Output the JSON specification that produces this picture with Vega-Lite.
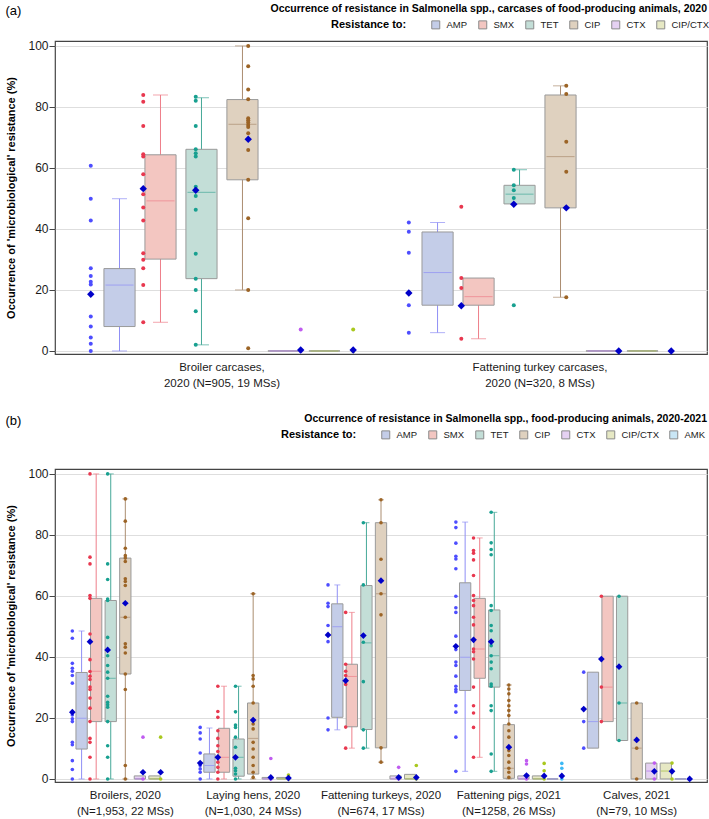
{
"$schema": "https://vega.github.io/schema/vega-lite/v6.json",
"padding": {"left": 5, "top": 2, "right": 3, "bottom": 0},
"spacing": 22,
"config": {
 "font": "Liberation Sans",
 "view": {"stroke": "#444", "strokeWidth": 1.2},
 "axisX": {"labelFontSize": 11.5, "ticks": false, "domain": false, "labelPadding": 7, "labelLineHeight": 16, "labelAngle": 0, "labelColor": "#1a1a1a", "labelLimit": 0, "grid": false},
 "axisY": {"labelFontSize": 12, "tickSize": 6, "labelPadding": 1, "titleFontSize": 11, "titleFontWeight": "bold", "titlePadding": 11, "gridColor": "#dedede", "domain": false, "tickColor": "#444", "labelColor": "#1a1a1a", "titleColor": "#000"},
 "legend": {"orient": "none", "direction": "horizontal", "gridAlign": "each", "titleOrient": "left", "titlePadding": 24, "columnPadding": 8, "labelOffset": 6, "symbolType": "square", "symbolSize": 64, "symbolStrokeColor": "#8a8a8a", "symbolStrokeWidth": 1, "labelFontSize": 9.5, "titleFontSize": 11, "titleFontWeight": "bold", "labelColor": "#1a1a1a", "titleColor": "#000", "labelLimit": 0},
 "title": {"color": "#000"}
},
"datasets": {
 "boxA": [
  {"g": "Broiler carcases,|2020 (N=905, 19 MSs)", "d": "AMP", "lo": 0, "q1": 8.0, "med": 21.6, "q3": 27.0, "hi": 49.9, "mean": 18.6},
  {"g": "Broiler carcases,|2020 (N=905, 19 MSs)", "d": "SMX", "lo": 9.4, "q1": 30.1, "med": 49.2, "q3": 64.3, "hi": 83.9, "mean": 53.2},
  {"g": "Broiler carcases,|2020 (N=905, 19 MSs)", "d": "TET", "lo": 2.0, "q1": 23.7, "med": 52.0, "q3": 66.1, "hi": 83.0, "mean": 52.7},
  {"g": "Broiler carcases,|2020 (N=905, 19 MSs)", "d": "CIP", "lo": 20.0, "q1": 56.1, "med": 74.3, "q3": 82.4, "hi": 100, "mean": 69.4},
  {"g": "Broiler carcases,|2020 (N=905, 19 MSs)", "d": "CTX", "lo": 0, "q1": 0, "med": 0, "q3": 0, "hi": 0, "mean": 0.3},
  {"g": "Broiler carcases,|2020 (N=905, 19 MSs)", "d": "CIP/CTX", "lo": 0, "q1": 0, "med": 0, "q3": 0, "hi": 0, "mean": 0.3},
  {"g": "Fattening turkey carcases,|2020 (N=320, 8 MSs)", "d": "AMP", "lo": 6.0, "q1": 15.0, "med": 25.7, "q3": 39.0, "hi": 42.1, "mean": 19.0},
  {"g": "Fattening turkey carcases,|2020 (N=320, 8 MSs)", "d": "SMX", "lo": 4.0, "q1": 15.0, "med": 17.8, "q3": 23.9, "hi": 23.9, "mean": 14.8},
  {"g": "Fattening turkey carcases,|2020 (N=320, 8 MSs)", "d": "TET", "lo": 48.2, "q1": 48.2, "med": 51.4, "q3": 54.3, "hi": 59.4, "mean": 48.1},
  {"g": "Fattening turkey carcases,|2020 (N=320, 8 MSs)", "d": "CIP", "lo": 17.6, "q1": 46.9, "med": 63.7, "q3": 83.9, "hi": 86.9, "mean": 46.9},
  {"g": "Fattening turkey carcases,|2020 (N=320, 8 MSs)", "d": "CTX", "lo": 0, "q1": 0, "med": 0, "q3": 0, "hi": 0, "mean": 0},
  {"g": "Fattening turkey carcases,|2020 (N=320, 8 MSs)", "d": "CIP/CTX", "lo": 0, "q1": 0, "med": 0, "q3": 0, "hi": 0, "mean": 0}
 ],
 "ptsA": [
  {"g": "Broiler carcases,|2020 (N=905, 19 MSs)", "d": "AMP", "v": 60.7},
  {"g": "Broiler carcases,|2020 (N=905, 19 MSs)", "d": "AMP", "v": 49.9},
  {"g": "Broiler carcases,|2020 (N=905, 19 MSs)", "d": "AMP", "v": 42.8},
  {"g": "Broiler carcases,|2020 (N=905, 19 MSs)", "d": "AMP", "v": 27.1},
  {"g": "Broiler carcases,|2020 (N=905, 19 MSs)", "d": "AMP", "v": 24.6},
  {"g": "Broiler carcases,|2020 (N=905, 19 MSs)", "d": "AMP", "v": 22.7},
  {"g": "Broiler carcases,|2020 (N=905, 19 MSs)", "d": "AMP", "v": 21.8},
  {"g": "Broiler carcases,|2020 (N=905, 19 MSs)", "d": "AMP", "v": 11.3},
  {"g": "Broiler carcases,|2020 (N=905, 19 MSs)", "d": "AMP", "v": 8.0},
  {"g": "Broiler carcases,|2020 (N=905, 19 MSs)", "d": "AMP", "v": 4.4},
  {"g": "Broiler carcases,|2020 (N=905, 19 MSs)", "d": "AMP", "v": 2.4},
  {"g": "Broiler carcases,|2020 (N=905, 19 MSs)", "d": "AMP", "v": 0},
  {"g": "Broiler carcases,|2020 (N=905, 19 MSs)", "d": "SMX", "v": 83.9},
  {"g": "Broiler carcases,|2020 (N=905, 19 MSs)", "d": "SMX", "v": 81.7},
  {"g": "Broiler carcases,|2020 (N=905, 19 MSs)", "d": "SMX", "v": 73.7},
  {"g": "Broiler carcases,|2020 (N=905, 19 MSs)", "d": "SMX", "v": 64.5},
  {"g": "Broiler carcases,|2020 (N=905, 19 MSs)", "d": "SMX", "v": 63.7},
  {"g": "Broiler carcases,|2020 (N=905, 19 MSs)", "d": "SMX", "v": 57.9},
  {"g": "Broiler carcases,|2020 (N=905, 19 MSs)", "d": "SMX", "v": 51.4},
  {"g": "Broiler carcases,|2020 (N=905, 19 MSs)", "d": "SMX", "v": 47.0},
  {"g": "Broiler carcases,|2020 (N=905, 19 MSs)", "d": "SMX", "v": 42.8},
  {"g": "Broiler carcases,|2020 (N=905, 19 MSs)", "d": "SMX", "v": 32.0},
  {"g": "Broiler carcases,|2020 (N=905, 19 MSs)", "d": "SMX", "v": 29.9},
  {"g": "Broiler carcases,|2020 (N=905, 19 MSs)", "d": "SMX", "v": 27.1},
  {"g": "Broiler carcases,|2020 (N=905, 19 MSs)", "d": "SMX", "v": 21.6},
  {"g": "Broiler carcases,|2020 (N=905, 19 MSs)", "d": "SMX", "v": 9.4},
  {"g": "Broiler carcases,|2020 (N=905, 19 MSs)", "d": "TET", "v": 83.3},
  {"g": "Broiler carcases,|2020 (N=905, 19 MSs)", "d": "TET", "v": 82.0},
  {"g": "Broiler carcases,|2020 (N=905, 19 MSs)", "d": "TET", "v": 73.7},
  {"g": "Broiler carcases,|2020 (N=905, 19 MSs)", "d": "TET", "v": 66.1},
  {"g": "Broiler carcases,|2020 (N=905, 19 MSs)", "d": "TET", "v": 64.8},
  {"g": "Broiler carcases,|2020 (N=905, 19 MSs)", "d": "TET", "v": 63.7},
  {"g": "Broiler carcases,|2020 (N=905, 19 MSs)", "d": "TET", "v": 53.8},
  {"g": "Broiler carcases,|2020 (N=905, 19 MSs)", "d": "TET", "v": 50.8},
  {"g": "Broiler carcases,|2020 (N=905, 19 MSs)", "d": "TET", "v": 46.3},
  {"g": "Broiler carcases,|2020 (N=905, 19 MSs)", "d": "TET", "v": 31.9},
  {"g": "Broiler carcases,|2020 (N=905, 19 MSs)", "d": "TET", "v": 23.7},
  {"g": "Broiler carcases,|2020 (N=905, 19 MSs)", "d": "TET", "v": 20.0},
  {"g": "Broiler carcases,|2020 (N=905, 19 MSs)", "d": "TET", "v": 13.0},
  {"g": "Broiler carcases,|2020 (N=905, 19 MSs)", "d": "TET", "v": 2.0},
  {"g": "Broiler carcases,|2020 (N=905, 19 MSs)", "d": "CIP", "v": 100},
  {"g": "Broiler carcases,|2020 (N=905, 19 MSs)", "d": "CIP", "v": 93.3},
  {"g": "Broiler carcases,|2020 (N=905, 19 MSs)", "d": "CIP", "v": 85.7},
  {"g": "Broiler carcases,|2020 (N=905, 19 MSs)", "d": "CIP", "v": 82.5},
  {"g": "Broiler carcases,|2020 (N=905, 19 MSs)", "d": "CIP", "v": 76.3},
  {"g": "Broiler carcases,|2020 (N=905, 19 MSs)", "d": "CIP", "v": 75.6},
  {"g": "Broiler carcases,|2020 (N=905, 19 MSs)", "d": "CIP", "v": 74.9},
  {"g": "Broiler carcases,|2020 (N=905, 19 MSs)", "d": "CIP", "v": 74.1},
  {"g": "Broiler carcases,|2020 (N=905, 19 MSs)", "d": "CIP", "v": 73.4},
  {"g": "Broiler carcases,|2020 (N=905, 19 MSs)", "d": "CIP", "v": 71.4},
  {"g": "Broiler carcases,|2020 (N=905, 19 MSs)", "d": "CIP", "v": 65.9},
  {"g": "Broiler carcases,|2020 (N=905, 19 MSs)", "d": "CIP", "v": 56.1},
  {"g": "Broiler carcases,|2020 (N=905, 19 MSs)", "d": "CIP", "v": 43.5},
  {"g": "Broiler carcases,|2020 (N=905, 19 MSs)", "d": "CIP", "v": 20.0},
  {"g": "Broiler carcases,|2020 (N=905, 19 MSs)", "d": "CIP", "v": 0.9},
  {"g": "Broiler carcases,|2020 (N=905, 19 MSs)", "d": "CTX", "v": 7.0},
  {"g": "Broiler carcases,|2020 (N=905, 19 MSs)", "d": "CTX", "v": 0},
  {"g": "Broiler carcases,|2020 (N=905, 19 MSs)", "d": "CIP/CTX", "v": 7.0},
  {"g": "Broiler carcases,|2020 (N=905, 19 MSs)", "d": "CIP/CTX", "v": 0},
  {"g": "Fattening turkey carcases,|2020 (N=320, 8 MSs)", "d": "AMP", "v": 42.1},
  {"g": "Fattening turkey carcases,|2020 (N=320, 8 MSs)", "d": "AMP", "v": 39.1},
  {"g": "Fattening turkey carcases,|2020 (N=320, 8 MSs)", "d": "AMP", "v": 32.2},
  {"g": "Fattening turkey carcases,|2020 (N=320, 8 MSs)", "d": "AMP", "v": 19.0},
  {"g": "Fattening turkey carcases,|2020 (N=320, 8 MSs)", "d": "AMP", "v": 15.0},
  {"g": "Fattening turkey carcases,|2020 (N=320, 8 MSs)", "d": "AMP", "v": 6.0},
  {"g": "Fattening turkey carcases,|2020 (N=320, 8 MSs)", "d": "SMX", "v": 47.3},
  {"g": "Fattening turkey carcases,|2020 (N=320, 8 MSs)", "d": "SMX", "v": 23.9},
  {"g": "Fattening turkey carcases,|2020 (N=320, 8 MSs)", "d": "SMX", "v": 20.6},
  {"g": "Fattening turkey carcases,|2020 (N=320, 8 MSs)", "d": "SMX", "v": 14.8},
  {"g": "Fattening turkey carcases,|2020 (N=320, 8 MSs)", "d": "SMX", "v": 4.0},
  {"g": "Fattening turkey carcases,|2020 (N=320, 8 MSs)", "d": "TET", "v": 59.4},
  {"g": "Fattening turkey carcases,|2020 (N=320, 8 MSs)", "d": "TET", "v": 54.3},
  {"g": "Fattening turkey carcases,|2020 (N=320, 8 MSs)", "d": "TET", "v": 52.7},
  {"g": "Fattening turkey carcases,|2020 (N=320, 8 MSs)", "d": "TET", "v": 50.1},
  {"g": "Fattening turkey carcases,|2020 (N=320, 8 MSs)", "d": "TET", "v": 48.1},
  {"g": "Fattening turkey carcases,|2020 (N=320, 8 MSs)", "d": "TET", "v": 15.0},
  {"g": "Fattening turkey carcases,|2020 (N=320, 8 MSs)", "d": "CIP", "v": 86.9},
  {"g": "Fattening turkey carcases,|2020 (N=320, 8 MSs)", "d": "CIP", "v": 84.2},
  {"g": "Fattening turkey carcases,|2020 (N=320, 8 MSs)", "d": "CIP", "v": 68.6},
  {"g": "Fattening turkey carcases,|2020 (N=320, 8 MSs)", "d": "CIP", "v": 58.7},
  {"g": "Fattening turkey carcases,|2020 (N=320, 8 MSs)", "d": "CIP", "v": 46.9},
  {"g": "Fattening turkey carcases,|2020 (N=320, 8 MSs)", "d": "CIP", "v": 17.6},
  {"g": "Fattening turkey carcases,|2020 (N=320, 8 MSs)", "d": "CTX", "v": 0},
  {"g": "Fattening turkey carcases,|2020 (N=320, 8 MSs)", "d": "CIP/CTX", "v": 0}
 ],
 "boxB": [
  {"g": "Broilers, 2020|(N=1,953, 22 MSs)", "d": "AMP", "lo": 0, "q1": 9.8, "med": 19.9, "q3": 34.9, "hi": 48.5, "mean": 21.9},
  {"g": "Broilers, 2020|(N=1,953, 22 MSs)", "d": "SMX", "lo": 0, "q1": 18.8, "med": 35.3, "q3": 59.2, "hi": 100, "mean": 45.0},
  {"g": "Broilers, 2020|(N=1,953, 22 MSs)", "d": "TET", "lo": 0, "q1": 18.8, "med": 33.0, "q3": 58.5, "hi": 100, "mean": 42.3},
  {"g": "Broilers, 2020|(N=1,953, 22 MSs)", "d": "CIP", "lo": 0, "q1": 34.4, "med": 53.0, "q3": 72.4, "hi": 91.8, "mean": 57.6},
  {"g": "Broilers, 2020|(N=1,953, 22 MSs)", "d": "CTX", "lo": 0, "q1": 0, "med": 0, "q3": 1.0, "hi": 1.0, "mean": 2.2},
  {"g": "Broilers, 2020|(N=1,953, 22 MSs)", "d": "CIP/CTX", "lo": 0, "q1": 0, "med": 0, "q3": 1.0, "hi": 1.0, "mean": 2.2},
  {"g": "Laying hens, 2020|(N=1,030, 24 MSs)", "d": "AMP", "lo": 0, "q1": 2.2, "med": 4.4, "q3": 8.2, "hi": 16.7, "mean": 5.2},
  {"g": "Laying hens, 2020|(N=1,030, 24 MSs)", "d": "SMX", "lo": 0, "q1": 2.2, "med": 7.1, "q3": 16.6, "hi": 30.4, "mean": 7.1},
  {"g": "Laying hens, 2020|(N=1,030, 24 MSs)", "d": "TET", "lo": 0, "q1": 0.9, "med": 7.1, "q3": 13.1, "hi": 30.4, "mean": 7.1},
  {"g": "Laying hens, 2020|(N=1,030, 24 MSs)", "d": "CIP", "lo": 0, "q1": 1.6, "med": 13.3, "q3": 24.9, "hi": 60.7, "mean": 19.3},
  {"g": "Laying hens, 2020|(N=1,030, 24 MSs)", "d": "CTX", "lo": 0, "q1": 0, "med": 0, "q3": 0.5, "hi": 0.5, "mean": 0.5},
  {"g": "Laying hens, 2020|(N=1,030, 24 MSs)", "d": "CIP/CTX", "lo": 0, "q1": 0, "med": 0, "q3": 0.5, "hi": 0.5, "mean": 0.3},
  {"g": "Fattening turkeys, 2020|(N=674, 17 MSs)", "d": "AMP", "lo": 16.1, "q1": 20.2, "med": 49.9, "q3": 57.4, "hi": 63.6, "mean": 47.2},
  {"g": "Fattening turkeys, 2020|(N=674, 17 MSs)", "d": "SMX", "lo": 10.1, "q1": 17.1, "med": 33.6, "q3": 37.6, "hi": 54.6, "mean": 32.2},
  {"g": "Fattening turkeys, 2020|(N=674, 17 MSs)", "d": "TET", "lo": 10.1, "q1": 16.2, "med": 44.6, "q3": 63.4, "hi": 84.0, "mean": 47.0},
  {"g": "Fattening turkeys, 2020|(N=674, 17 MSs)", "d": "CIP", "lo": 5.5, "q1": 10.2, "med": 60.7, "q3": 84.0, "hi": 91.5, "mean": 65.0},
  {"g": "Fattening turkeys, 2020|(N=674, 17 MSs)", "d": "CTX", "lo": 0, "q1": 0, "med": 0, "q3": 1.0, "hi": 1.0, "mean": 0.5},
  {"g": "Fattening turkeys, 2020|(N=674, 17 MSs)", "d": "CIP/CTX", "lo": 0, "q1": 0, "med": 0, "q3": 1.5, "hi": 1.5, "mean": 0.5},
  {"g": "Fattening pigs, 2021|(N=1258, 26 MSs)", "d": "AMP", "lo": 2.5, "q1": 29.0, "med": 39.9, "q3": 64.3, "hi": 84.2, "mean": 43.5},
  {"g": "Fattening pigs, 2021|(N=1258, 26 MSs)", "d": "SMX", "lo": 7.1, "q1": 33.0, "med": 42.6, "q3": 59.2, "hi": 79.0, "mean": 45.6},
  {"g": "Fattening pigs, 2021|(N=1258, 26 MSs)", "d": "TET", "lo": 2.5, "q1": 30.1, "med": 40.4, "q3": 55.4, "hi": 87.4, "mean": 45.0},
  {"g": "Fattening pigs, 2021|(N=1258, 26 MSs)", "d": "CIP", "lo": 0, "q1": 0.2, "med": 3.5, "q3": 17.8, "hi": 30.8, "mean": 10.4},
  {"g": "Fattening pigs, 2021|(N=1258, 26 MSs)", "d": "CTX", "lo": 0, "q1": 0, "med": 0, "q3": 1.0, "hi": 1.0, "mean": 1.1},
  {"g": "Fattening pigs, 2021|(N=1258, 26 MSs)", "d": "CIP/CTX", "lo": 0, "q1": 0, "med": 0, "q3": 1.0, "hi": 1.0, "mean": 1.0},
  {"g": "Fattening pigs, 2021|(N=1258, 26 MSs)", "d": "AMK", "lo": 0, "q1": 0, "med": 0, "q3": 0, "hi": 0, "mean": 1.0},
  {"g": "Calves, 2021|(N=79, 10 MSs)", "d": "AMP", "lo": 10.1, "q1": 10.1, "med": 18.8, "q3": 35.0, "hi": 35.0, "mean": 22.9},
  {"g": "Calves, 2021|(N=79, 10 MSs)", "d": "SMX", "lo": 18.8, "q1": 18.8, "med": 30.1, "q3": 59.9, "hi": 59.9, "mean": 39.3},
  {"g": "Calves, 2021|(N=79, 10 MSs)", "d": "TET", "lo": 12.6, "q1": 12.6, "med": 24.9, "q3": 59.9, "hi": 59.9, "mean": 36.8},
  {"g": "Calves, 2021|(N=79, 10 MSs)", "d": "CIP", "lo": 0, "q1": 0, "med": 10.1, "q3": 24.9, "hi": 24.9, "mean": 12.8},
  {"g": "Calves, 2021|(N=79, 10 MSs)", "d": "CTX", "lo": 0, "q1": 0, "med": 2.6, "q3": 5.2, "hi": 5.2, "mean": 2.5},
  {"g": "Calves, 2021|(N=79, 10 MSs)", "d": "CIP/CTX", "lo": 0, "q1": 0, "med": 2.6, "q3": 5.2, "hi": 5.2, "mean": 2.5},
  {"g": "Calves, 2021|(N=79, 10 MSs)", "d": "AMK", "lo": 0, "q1": 0, "med": 0, "q3": 0, "hi": 0, "mean": 0}
 ],
 "ptsB": [
  {"g": "Broilers, 2020|(N=1,953, 22 MSs)", "d": "AMP", "v": 48.5},
  {"g": "Broilers, 2020|(N=1,953, 22 MSs)", "d": "AMP", "v": 46.1},
  {"g": "Broilers, 2020|(N=1,953, 22 MSs)", "d": "AMP", "v": 37.9},
  {"g": "Broilers, 2020|(N=1,953, 22 MSs)", "d": "AMP", "v": 36.3},
  {"g": "Broilers, 2020|(N=1,953, 22 MSs)", "d": "AMP", "v": 35.3},
  {"g": "Broilers, 2020|(N=1,953, 22 MSs)", "d": "AMP", "v": 33.9},
  {"g": "Broilers, 2020|(N=1,953, 22 MSs)", "d": "AMP", "v": 31.4},
  {"g": "Broilers, 2020|(N=1,953, 22 MSs)", "d": "AMP", "v": 21.0},
  {"g": "Broilers, 2020|(N=1,953, 22 MSs)", "d": "AMP", "v": 19.7},
  {"g": "Broilers, 2020|(N=1,953, 22 MSs)", "d": "AMP", "v": 18.8},
  {"g": "Broilers, 2020|(N=1,953, 22 MSs)", "d": "AMP", "v": 12.0},
  {"g": "Broilers, 2020|(N=1,953, 22 MSs)", "d": "AMP", "v": 11.2},
  {"g": "Broilers, 2020|(N=1,953, 22 MSs)", "d": "AMP", "v": 6.0},
  {"g": "Broilers, 2020|(N=1,953, 22 MSs)", "d": "AMP", "v": 3.1},
  {"g": "Broilers, 2020|(N=1,953, 22 MSs)", "d": "AMP", "v": 0},
  {"g": "Broilers, 2020|(N=1,953, 22 MSs)", "d": "SMX", "v": 100},
  {"g": "Broilers, 2020|(N=1,953, 22 MSs)", "d": "SMX", "v": 72.7},
  {"g": "Broilers, 2020|(N=1,953, 22 MSs)", "d": "SMX", "v": 70.5},
  {"g": "Broilers, 2020|(N=1,953, 22 MSs)", "d": "SMX", "v": 60.1},
  {"g": "Broilers, 2020|(N=1,953, 22 MSs)", "d": "SMX", "v": 59.2},
  {"g": "Broilers, 2020|(N=1,953, 22 MSs)", "d": "SMX", "v": 47.5},
  {"g": "Broilers, 2020|(N=1,953, 22 MSs)", "d": "SMX", "v": 39.1},
  {"g": "Broilers, 2020|(N=1,953, 22 MSs)", "d": "SMX", "v": 35.2},
  {"g": "Broilers, 2020|(N=1,953, 22 MSs)", "d": "SMX", "v": 33.7},
  {"g": "Broilers, 2020|(N=1,953, 22 MSs)", "d": "SMX", "v": 32.6},
  {"g": "Broilers, 2020|(N=1,953, 22 MSs)", "d": "SMX", "v": 30.1},
  {"g": "Broilers, 2020|(N=1,953, 22 MSs)", "d": "SMX", "v": 29.3},
  {"g": "Broilers, 2020|(N=1,953, 22 MSs)", "d": "SMX", "v": 26.5},
  {"g": "Broilers, 2020|(N=1,953, 22 MSs)", "d": "SMX", "v": 23.2},
  {"g": "Broilers, 2020|(N=1,953, 22 MSs)", "d": "SMX", "v": 18.8},
  {"g": "Broilers, 2020|(N=1,953, 22 MSs)", "d": "SMX", "v": 13.3},
  {"g": "Broilers, 2020|(N=1,953, 22 MSs)", "d": "SMX", "v": 12.0},
  {"g": "Broilers, 2020|(N=1,953, 22 MSs)", "d": "SMX", "v": 7.1},
  {"g": "Broilers, 2020|(N=1,953, 22 MSs)", "d": "SMX", "v": 0},
  {"g": "Broilers, 2020|(N=1,953, 22 MSs)", "d": "TET", "v": 100},
  {"g": "Broilers, 2020|(N=1,953, 22 MSs)", "d": "TET", "v": 70.5},
  {"g": "Broilers, 2020|(N=1,953, 22 MSs)", "d": "TET", "v": 65.4},
  {"g": "Broilers, 2020|(N=1,953, 22 MSs)", "d": "TET", "v": 59.0},
  {"g": "Broilers, 2020|(N=1,953, 22 MSs)", "d": "TET", "v": 58.5},
  {"g": "Broilers, 2020|(N=1,953, 22 MSs)", "d": "TET", "v": 46.4},
  {"g": "Broilers, 2020|(N=1,953, 22 MSs)", "d": "TET", "v": 40.4},
  {"g": "Broilers, 2020|(N=1,953, 22 MSs)", "d": "TET", "v": 37.2},
  {"g": "Broilers, 2020|(N=1,953, 22 MSs)", "d": "TET", "v": 35.0},
  {"g": "Broilers, 2020|(N=1,953, 22 MSs)", "d": "TET", "v": 33.0},
  {"g": "Broilers, 2020|(N=1,953, 22 MSs)", "d": "TET", "v": 27.1},
  {"g": "Broilers, 2020|(N=1,953, 22 MSs)", "d": "TET", "v": 25.1},
  {"g": "Broilers, 2020|(N=1,953, 22 MSs)", "d": "TET", "v": 24.3},
  {"g": "Broilers, 2020|(N=1,953, 22 MSs)", "d": "TET", "v": 23.5},
  {"g": "Broilers, 2020|(N=1,953, 22 MSs)", "d": "TET", "v": 18.8},
  {"g": "Broilers, 2020|(N=1,953, 22 MSs)", "d": "TET", "v": 10.9},
  {"g": "Broilers, 2020|(N=1,953, 22 MSs)", "d": "TET", "v": 7.1},
  {"g": "Broilers, 2020|(N=1,953, 22 MSs)", "d": "TET", "v": 0},
  {"g": "Broilers, 2020|(N=1,953, 22 MSs)", "d": "CIP", "v": 91.8},
  {"g": "Broilers, 2020|(N=1,953, 22 MSs)", "d": "CIP", "v": 84.5},
  {"g": "Broilers, 2020|(N=1,953, 22 MSs)", "d": "CIP", "v": 75.6},
  {"g": "Broilers, 2020|(N=1,953, 22 MSs)", "d": "CIP", "v": 73.2},
  {"g": "Broilers, 2020|(N=1,953, 22 MSs)", "d": "CIP", "v": 72.4},
  {"g": "Broilers, 2020|(N=1,953, 22 MSs)", "d": "CIP", "v": 71.3},
  {"g": "Broilers, 2020|(N=1,953, 22 MSs)", "d": "CIP", "v": 65.6},
  {"g": "Broilers, 2020|(N=1,953, 22 MSs)", "d": "CIP", "v": 64.7},
  {"g": "Broilers, 2020|(N=1,953, 22 MSs)", "d": "CIP", "v": 63.4},
  {"g": "Broilers, 2020|(N=1,953, 22 MSs)", "d": "CIP", "v": 53.0},
  {"g": "Broilers, 2020|(N=1,953, 22 MSs)", "d": "CIP", "v": 44.3},
  {"g": "Broilers, 2020|(N=1,953, 22 MSs)", "d": "CIP", "v": 43.2},
  {"g": "Broilers, 2020|(N=1,953, 22 MSs)", "d": "CIP", "v": 41.3},
  {"g": "Broilers, 2020|(N=1,953, 22 MSs)", "d": "CIP", "v": 34.4},
  {"g": "Broilers, 2020|(N=1,953, 22 MSs)", "d": "CIP", "v": 29.3},
  {"g": "Broilers, 2020|(N=1,953, 22 MSs)", "d": "CIP", "v": 4.4},
  {"g": "Broilers, 2020|(N=1,953, 22 MSs)", "d": "CIP", "v": 0},
  {"g": "Broilers, 2020|(N=1,953, 22 MSs)", "d": "CTX", "v": 13.7},
  {"g": "Broilers, 2020|(N=1,953, 22 MSs)", "d": "CTX", "v": 0},
  {"g": "Broilers, 2020|(N=1,953, 22 MSs)", "d": "CIP/CTX", "v": 13.7},
  {"g": "Broilers, 2020|(N=1,953, 22 MSs)", "d": "CIP/CTX", "v": 0},
  {"g": "Laying hens, 2020|(N=1,030, 24 MSs)", "d": "AMP", "v": 16.9},
  {"g": "Laying hens, 2020|(N=1,030, 24 MSs)", "d": "AMP", "v": 15.1},
  {"g": "Laying hens, 2020|(N=1,030, 24 MSs)", "d": "AMP", "v": 13.1},
  {"g": "Laying hens, 2020|(N=1,030, 24 MSs)", "d": "AMP", "v": 8.5},
  {"g": "Laying hens, 2020|(N=1,030, 24 MSs)", "d": "AMP", "v": 4.4},
  {"g": "Laying hens, 2020|(N=1,030, 24 MSs)", "d": "AMP", "v": 3.3},
  {"g": "Laying hens, 2020|(N=1,030, 24 MSs)", "d": "AMP", "v": 2.2},
  {"g": "Laying hens, 2020|(N=1,030, 24 MSs)", "d": "AMP", "v": 0},
  {"g": "Laying hens, 2020|(N=1,030, 24 MSs)", "d": "SMX", "v": 30.4},
  {"g": "Laying hens, 2020|(N=1,030, 24 MSs)", "d": "SMX", "v": 22.1},
  {"g": "Laying hens, 2020|(N=1,030, 24 MSs)", "d": "SMX", "v": 20.2},
  {"g": "Laying hens, 2020|(N=1,030, 24 MSs)", "d": "SMX", "v": 15.8},
  {"g": "Laying hens, 2020|(N=1,030, 24 MSs)", "d": "SMX", "v": 13.3},
  {"g": "Laying hens, 2020|(N=1,030, 24 MSs)", "d": "SMX", "v": 10.9},
  {"g": "Laying hens, 2020|(N=1,030, 24 MSs)", "d": "SMX", "v": 9.0},
  {"g": "Laying hens, 2020|(N=1,030, 24 MSs)", "d": "SMX", "v": 5.5},
  {"g": "Laying hens, 2020|(N=1,030, 24 MSs)", "d": "SMX", "v": 3.8},
  {"g": "Laying hens, 2020|(N=1,030, 24 MSs)", "d": "SMX", "v": 2.2},
  {"g": "Laying hens, 2020|(N=1,030, 24 MSs)", "d": "SMX", "v": 0},
  {"g": "Laying hens, 2020|(N=1,030, 24 MSs)", "d": "TET", "v": 30.4},
  {"g": "Laying hens, 2020|(N=1,030, 24 MSs)", "d": "TET", "v": 22.0},
  {"g": "Laying hens, 2020|(N=1,030, 24 MSs)", "d": "TET", "v": 17.7},
  {"g": "Laying hens, 2020|(N=1,030, 24 MSs)", "d": "TET", "v": 16.9},
  {"g": "Laying hens, 2020|(N=1,030, 24 MSs)", "d": "TET", "v": 13.7},
  {"g": "Laying hens, 2020|(N=1,030, 24 MSs)", "d": "TET", "v": 10.4},
  {"g": "Laying hens, 2020|(N=1,030, 24 MSs)", "d": "TET", "v": 3.5},
  {"g": "Laying hens, 2020|(N=1,030, 24 MSs)", "d": "TET", "v": 2.7},
  {"g": "Laying hens, 2020|(N=1,030, 24 MSs)", "d": "TET", "v": 1.6},
  {"g": "Laying hens, 2020|(N=1,030, 24 MSs)", "d": "TET", "v": 0},
  {"g": "Laying hens, 2020|(N=1,030, 24 MSs)", "d": "CIP", "v": 60.7},
  {"g": "Laying hens, 2020|(N=1,030, 24 MSs)", "d": "CIP", "v": 33.9},
  {"g": "Laying hens, 2020|(N=1,030, 24 MSs)", "d": "CIP", "v": 32.8},
  {"g": "Laying hens, 2020|(N=1,030, 24 MSs)", "d": "CIP", "v": 30.4},
  {"g": "Laying hens, 2020|(N=1,030, 24 MSs)", "d": "CIP", "v": 24.9},
  {"g": "Laying hens, 2020|(N=1,030, 24 MSs)", "d": "CIP", "v": 18.0},
  {"g": "Laying hens, 2020|(N=1,030, 24 MSs)", "d": "CIP", "v": 16.4},
  {"g": "Laying hens, 2020|(N=1,030, 24 MSs)", "d": "CIP", "v": 12.0},
  {"g": "Laying hens, 2020|(N=1,030, 24 MSs)", "d": "CIP", "v": 9.8},
  {"g": "Laying hens, 2020|(N=1,030, 24 MSs)", "d": "CIP", "v": 7.1},
  {"g": "Laying hens, 2020|(N=1,030, 24 MSs)", "d": "CIP", "v": 4.4},
  {"g": "Laying hens, 2020|(N=1,030, 24 MSs)", "d": "CIP", "v": 2.2},
  {"g": "Laying hens, 2020|(N=1,030, 24 MSs)", "d": "CIP", "v": 0.5},
  {"g": "Laying hens, 2020|(N=1,030, 24 MSs)", "d": "CTX", "v": 6.7},
  {"g": "Laying hens, 2020|(N=1,030, 24 MSs)", "d": "CTX", "v": 0},
  {"g": "Laying hens, 2020|(N=1,030, 24 MSs)", "d": "CIP/CTX", "v": 1.3},
  {"g": "Laying hens, 2020|(N=1,030, 24 MSs)", "d": "CIP/CTX", "v": 0},
  {"g": "Fattening turkeys, 2020|(N=674, 17 MSs)", "d": "AMP", "v": 63.6},
  {"g": "Fattening turkeys, 2020|(N=674, 17 MSs)", "d": "AMP", "v": 57.6},
  {"g": "Fattening turkeys, 2020|(N=674, 17 MSs)", "d": "AMP", "v": 56.5},
  {"g": "Fattening turkeys, 2020|(N=674, 17 MSs)", "d": "AMP", "v": 50.3},
  {"g": "Fattening turkeys, 2020|(N=674, 17 MSs)", "d": "AMP", "v": 45.0},
  {"g": "Fattening turkeys, 2020|(N=674, 17 MSs)", "d": "AMP", "v": 20.0},
  {"g": "Fattening turkeys, 2020|(N=674, 17 MSs)", "d": "AMP", "v": 16.1},
  {"g": "Fattening turkeys, 2020|(N=674, 17 MSs)", "d": "SMX", "v": 54.6},
  {"g": "Fattening turkeys, 2020|(N=674, 17 MSs)", "d": "SMX", "v": 37.6},
  {"g": "Fattening turkeys, 2020|(N=674, 17 MSs)", "d": "SMX", "v": 35.3},
  {"g": "Fattening turkeys, 2020|(N=674, 17 MSs)", "d": "SMX", "v": 33.9},
  {"g": "Fattening turkeys, 2020|(N=674, 17 MSs)", "d": "SMX", "v": 31.0},
  {"g": "Fattening turkeys, 2020|(N=674, 17 MSs)", "d": "SMX", "v": 17.0},
  {"g": "Fattening turkeys, 2020|(N=674, 17 MSs)", "d": "SMX", "v": 10.1},
  {"g": "Fattening turkeys, 2020|(N=674, 17 MSs)", "d": "TET", "v": 84.0},
  {"g": "Fattening turkeys, 2020|(N=674, 17 MSs)", "d": "TET", "v": 63.6},
  {"g": "Fattening turkeys, 2020|(N=674, 17 MSs)", "d": "TET", "v": 44.8},
  {"g": "Fattening turkeys, 2020|(N=674, 17 MSs)", "d": "TET", "v": 31.9},
  {"g": "Fattening turkeys, 2020|(N=674, 17 MSs)", "d": "TET", "v": 16.1},
  {"g": "Fattening turkeys, 2020|(N=674, 17 MSs)", "d": "TET", "v": 10.1},
  {"g": "Fattening turkeys, 2020|(N=674, 17 MSs)", "d": "CIP", "v": 91.5},
  {"g": "Fattening turkeys, 2020|(N=674, 17 MSs)", "d": "CIP", "v": 84.0},
  {"g": "Fattening turkeys, 2020|(N=674, 17 MSs)", "d": "CIP", "v": 72.0},
  {"g": "Fattening turkeys, 2020|(N=674, 17 MSs)", "d": "CIP", "v": 60.7},
  {"g": "Fattening turkeys, 2020|(N=674, 17 MSs)", "d": "CIP", "v": 53.8},
  {"g": "Fattening turkeys, 2020|(N=674, 17 MSs)", "d": "CIP", "v": 10.2},
  {"g": "Fattening turkeys, 2020|(N=674, 17 MSs)", "d": "CIP", "v": 5.5},
  {"g": "Fattening turkeys, 2020|(N=674, 17 MSs)", "d": "CTX", "v": 3.8},
  {"g": "Fattening turkeys, 2020|(N=674, 17 MSs)", "d": "CTX", "v": 0},
  {"g": "Fattening turkeys, 2020|(N=674, 17 MSs)", "d": "CIP/CTX", "v": 4.4},
  {"g": "Fattening turkeys, 2020|(N=674, 17 MSs)", "d": "CIP/CTX", "v": 0},
  {"g": "Fattening pigs, 2021|(N=1258, 26 MSs)", "d": "AMP", "v": 84.2},
  {"g": "Fattening pigs, 2021|(N=1258, 26 MSs)", "d": "AMP", "v": 82.4},
  {"g": "Fattening pigs, 2021|(N=1258, 26 MSs)", "d": "AMP", "v": 77.3},
  {"g": "Fattening pigs, 2021|(N=1258, 26 MSs)", "d": "AMP", "v": 73.0},
  {"g": "Fattening pigs, 2021|(N=1258, 26 MSs)", "d": "AMP", "v": 72.1},
  {"g": "Fattening pigs, 2021|(N=1258, 26 MSs)", "d": "AMP", "v": 68.9},
  {"g": "Fattening pigs, 2021|(N=1258, 26 MSs)", "d": "AMP", "v": 59.9},
  {"g": "Fattening pigs, 2021|(N=1258, 26 MSs)", "d": "AMP", "v": 56.1},
  {"g": "Fattening pigs, 2021|(N=1258, 26 MSs)", "d": "AMP", "v": 54.6},
  {"g": "Fattening pigs, 2021|(N=1258, 26 MSs)", "d": "AMP", "v": 46.8},
  {"g": "Fattening pigs, 2021|(N=1258, 26 MSs)", "d": "AMP", "v": 42.4},
  {"g": "Fattening pigs, 2021|(N=1258, 26 MSs)", "d": "AMP", "v": 38.3},
  {"g": "Fattening pigs, 2021|(N=1258, 26 MSs)", "d": "AMP", "v": 37.2},
  {"g": "Fattening pigs, 2021|(N=1258, 26 MSs)", "d": "AMP", "v": 33.7},
  {"g": "Fattening pigs, 2021|(N=1258, 26 MSs)", "d": "AMP", "v": 30.4},
  {"g": "Fattening pigs, 2021|(N=1258, 26 MSs)", "d": "AMP", "v": 29.3},
  {"g": "Fattening pigs, 2021|(N=1258, 26 MSs)", "d": "AMP", "v": 28.6},
  {"g": "Fattening pigs, 2021|(N=1258, 26 MSs)", "d": "AMP", "v": 24.0},
  {"g": "Fattening pigs, 2021|(N=1258, 26 MSs)", "d": "AMP", "v": 21.9},
  {"g": "Fattening pigs, 2021|(N=1258, 26 MSs)", "d": "AMP", "v": 13.7},
  {"g": "Fattening pigs, 2021|(N=1258, 26 MSs)", "d": "AMP", "v": 2.5},
  {"g": "Fattening pigs, 2021|(N=1258, 26 MSs)", "d": "SMX", "v": 79.0},
  {"g": "Fattening pigs, 2021|(N=1258, 26 MSs)", "d": "SMX", "v": 74.9},
  {"g": "Fattening pigs, 2021|(N=1258, 26 MSs)", "d": "SMX", "v": 74.0},
  {"g": "Fattening pigs, 2021|(N=1258, 26 MSs)", "d": "SMX", "v": 71.8},
  {"g": "Fattening pigs, 2021|(N=1258, 26 MSs)", "d": "SMX", "v": 66.7},
  {"g": "Fattening pigs, 2021|(N=1258, 26 MSs)", "d": "SMX", "v": 60.1},
  {"g": "Fattening pigs, 2021|(N=1258, 26 MSs)", "d": "SMX", "v": 58.5},
  {"g": "Fattening pigs, 2021|(N=1258, 26 MSs)", "d": "SMX", "v": 56.8},
  {"g": "Fattening pigs, 2021|(N=1258, 26 MSs)", "d": "SMX", "v": 53.0},
  {"g": "Fattening pigs, 2021|(N=1258, 26 MSs)", "d": "SMX", "v": 50.5},
  {"g": "Fattening pigs, 2021|(N=1258, 26 MSs)", "d": "SMX", "v": 42.6},
  {"g": "Fattening pigs, 2021|(N=1258, 26 MSs)", "d": "SMX", "v": 41.7},
  {"g": "Fattening pigs, 2021|(N=1258, 26 MSs)", "d": "SMX", "v": 39.3},
  {"g": "Fattening pigs, 2021|(N=1258, 26 MSs)", "d": "SMX", "v": 30.1},
  {"g": "Fattening pigs, 2021|(N=1258, 26 MSs)", "d": "SMX", "v": 24.0},
  {"g": "Fattening pigs, 2021|(N=1258, 26 MSs)", "d": "SMX", "v": 21.6},
  {"g": "Fattening pigs, 2021|(N=1258, 26 MSs)", "d": "SMX", "v": 16.9},
  {"g": "Fattening pigs, 2021|(N=1258, 26 MSs)", "d": "SMX", "v": 7.1},
  {"g": "Fattening pigs, 2021|(N=1258, 26 MSs)", "d": "TET", "v": 87.4},
  {"g": "Fattening pigs, 2021|(N=1258, 26 MSs)", "d": "TET", "v": 77.4},
  {"g": "Fattening pigs, 2021|(N=1258, 26 MSs)", "d": "TET", "v": 75.2},
  {"g": "Fattening pigs, 2021|(N=1258, 26 MSs)", "d": "TET", "v": 73.5},
  {"g": "Fattening pigs, 2021|(N=1258, 26 MSs)", "d": "TET", "v": 56.8},
  {"g": "Fattening pigs, 2021|(N=1258, 26 MSs)", "d": "TET", "v": 55.2},
  {"g": "Fattening pigs, 2021|(N=1258, 26 MSs)", "d": "TET", "v": 50.3},
  {"g": "Fattening pigs, 2021|(N=1258, 26 MSs)", "d": "TET", "v": 48.6},
  {"g": "Fattening pigs, 2021|(N=1258, 26 MSs)", "d": "TET", "v": 43.7},
  {"g": "Fattening pigs, 2021|(N=1258, 26 MSs)", "d": "TET", "v": 40.4},
  {"g": "Fattening pigs, 2021|(N=1258, 26 MSs)", "d": "TET", "v": 38.3},
  {"g": "Fattening pigs, 2021|(N=1258, 26 MSs)", "d": "TET", "v": 36.1},
  {"g": "Fattening pigs, 2021|(N=1258, 26 MSs)", "d": "TET", "v": 31.1},
  {"g": "Fattening pigs, 2021|(N=1258, 26 MSs)", "d": "TET", "v": 30.4},
  {"g": "Fattening pigs, 2021|(N=1258, 26 MSs)", "d": "TET", "v": 24.0},
  {"g": "Fattening pigs, 2021|(N=1258, 26 MSs)", "d": "TET", "v": 22.4},
  {"g": "Fattening pigs, 2021|(N=1258, 26 MSs)", "d": "TET", "v": 8.2},
  {"g": "Fattening pigs, 2021|(N=1258, 26 MSs)", "d": "TET", "v": 2.5},
  {"g": "Fattening pigs, 2021|(N=1258, 26 MSs)", "d": "CIP", "v": 30.8},
  {"g": "Fattening pigs, 2021|(N=1258, 26 MSs)", "d": "CIP", "v": 29.5},
  {"g": "Fattening pigs, 2021|(N=1258, 26 MSs)", "d": "CIP", "v": 27.9},
  {"g": "Fattening pigs, 2021|(N=1258, 26 MSs)", "d": "CIP", "v": 25.7},
  {"g": "Fattening pigs, 2021|(N=1258, 26 MSs)", "d": "CIP", "v": 24.0},
  {"g": "Fattening pigs, 2021|(N=1258, 26 MSs)", "d": "CIP", "v": 22.4},
  {"g": "Fattening pigs, 2021|(N=1258, 26 MSs)", "d": "CIP", "v": 20.8},
  {"g": "Fattening pigs, 2021|(N=1258, 26 MSs)", "d": "CIP", "v": 18.0},
  {"g": "Fattening pigs, 2021|(N=1258, 26 MSs)", "d": "CIP", "v": 15.8},
  {"g": "Fattening pigs, 2021|(N=1258, 26 MSs)", "d": "CIP", "v": 13.7},
  {"g": "Fattening pigs, 2021|(N=1258, 26 MSs)", "d": "CIP", "v": 9.3},
  {"g": "Fattening pigs, 2021|(N=1258, 26 MSs)", "d": "CIP", "v": 7.7},
  {"g": "Fattening pigs, 2021|(N=1258, 26 MSs)", "d": "CIP", "v": 5.5},
  {"g": "Fattening pigs, 2021|(N=1258, 26 MSs)", "d": "CIP", "v": 3.5},
  {"g": "Fattening pigs, 2021|(N=1258, 26 MSs)", "d": "CIP", "v": 2.2},
  {"g": "Fattening pigs, 2021|(N=1258, 26 MSs)", "d": "CIP", "v": 0.5},
  {"g": "Fattening pigs, 2021|(N=1258, 26 MSs)", "d": "CTX", "v": 6.0},
  {"g": "Fattening pigs, 2021|(N=1258, 26 MSs)", "d": "CTX", "v": 4.9},
  {"g": "Fattening pigs, 2021|(N=1258, 26 MSs)", "d": "CTX", "v": 0},
  {"g": "Fattening pigs, 2021|(N=1258, 26 MSs)", "d": "CIP/CTX", "v": 5.1},
  {"g": "Fattening pigs, 2021|(N=1258, 26 MSs)", "d": "CIP/CTX", "v": 2.7},
  {"g": "Fattening pigs, 2021|(N=1258, 26 MSs)", "d": "CIP/CTX", "v": 0},
  {"g": "Fattening pigs, 2021|(N=1258, 26 MSs)", "d": "AMK", "v": 5.1},
  {"g": "Fattening pigs, 2021|(N=1258, 26 MSs)", "d": "AMK", "v": 3.5},
  {"g": "Fattening pigs, 2021|(N=1258, 26 MSs)", "d": "AMK", "v": 0},
  {"g": "Calves, 2021|(N=79, 10 MSs)", "d": "AMP", "v": 35.0},
  {"g": "Calves, 2021|(N=79, 10 MSs)", "d": "AMP", "v": 18.8},
  {"g": "Calves, 2021|(N=79, 10 MSs)", "d": "AMP", "v": 10.1},
  {"g": "Calves, 2021|(N=79, 10 MSs)", "d": "SMX", "v": 59.9},
  {"g": "Calves, 2021|(N=79, 10 MSs)", "d": "SMX", "v": 30.1},
  {"g": "Calves, 2021|(N=79, 10 MSs)", "d": "SMX", "v": 18.8},
  {"g": "Calves, 2021|(N=79, 10 MSs)", "d": "TET", "v": 59.9},
  {"g": "Calves, 2021|(N=79, 10 MSs)", "d": "TET", "v": 24.9},
  {"g": "Calves, 2021|(N=79, 10 MSs)", "d": "TET", "v": 12.6},
  {"g": "Calves, 2021|(N=79, 10 MSs)", "d": "CIP", "v": 24.9},
  {"g": "Calves, 2021|(N=79, 10 MSs)", "d": "CIP", "v": 10.1},
  {"g": "Calves, 2021|(N=79, 10 MSs)", "d": "CIP", "v": 0},
  {"g": "Calves, 2021|(N=79, 10 MSs)", "d": "CTX", "v": 5.2},
  {"g": "Calves, 2021|(N=79, 10 MSs)", "d": "CTX", "v": 0},
  {"g": "Calves, 2021|(N=79, 10 MSs)", "d": "CIP/CTX", "v": 5.2},
  {"g": "Calves, 2021|(N=79, 10 MSs)", "d": "CIP/CTX", "v": 0},
  {"g": "Calves, 2021|(N=79, 10 MSs)", "d": "AMK", "v": 0}
 ]
},
"vconcat": [
 {
  "title": {"text": "(a)", "anchor": "start", "frame": "bounds", "offset": -15, "fontSize": 13, "fontWeight": "normal"},
  "vconcat": [
   {
    "width": 652, "height": 313,
    "title": {"text": "Occurrence of resistance in Salmonella spp., carcases of food-producing animals, 2020", "anchor": "end", "frame": "group", "offset": 6, "fontSize": 10.5, "fontWeight": "bold"},
    "encoding": {
     "x": {"field": "g", "type": "nominal", "title": null, "scale": {"domain": ["Broiler carcases,|2020 (N=905, 19 MSs)", "Fattening turkey carcases,|2020 (N=320, 8 MSs)"], "paddingInner": 0, "paddingOuter": 0.025}, "axis": {"labelExpr": "split(datum.label, '|')"}}
    },
    "layer": [
     {"data": {"name": "boxA"}, "mark": {"type": "rule", "strokeWidth": 1},
      "encoding": {
       "xOffset": {"field": "d", "type": "nominal", "scale": {"domain": ["AMP","SMX","TET","CIP","CTX","CIP/CTX"], "paddingInner": 0.24, "paddingOuter": 1.42}},
       "y": {"field": "lo", "type": "quantitative", "title": "Occurrence of 'microbiological' resistance (%)", "scale": {"domain": [-1, 101.6], "nice": false, "zero": false}, "axis": {"values": [0,20,40,60,80,100]}},
       "y2": {"field": "hi"},
       "color": {"field": "d", "type": "nominal", "scale": {"domain": ["AMP","SMX","TET","CIP","CTX","CIP/CTX"], "range": ["#8f8ff5","#ee7f8a","#45a898","#ab8d70","#b474f0","#a3bb3f"]}, "legend": null}
      }},
     {"data": {"name": "boxA"}, "mark": {"type": "bar", "stroke": "#9a9a9a", "strokeWidth": 1},
      "encoding": {
       "xOffset": {"field": "d", "type": "nominal", "scale": {"domain": ["AMP","SMX","TET","CIP","CTX","CIP/CTX"], "paddingInner": 0.24, "paddingOuter": 1.42}},
       "y": {"field": "q1", "type": "quantitative", "title": "Occurrence of 'microbiological' resistance (%)", "scale": {"domain": [-1, 101.6], "nice": false, "zero": false}, "axis": {"values": [0,20,40,60,80,100]}},
       "y2": {"field": "q3"},
       "fill": {"field": "d", "type": "nominal", "scale": {"domain": ["AMP","SMX","TET","CIP","CTX","CIP/CTX"], "range": ["#c4cde8","#f3c6c1","#c3ded7","#dfd1bf","#e5d1f2","#e6e8c4"]},
        "legend": {"title": "Resistance to:", "columns": 6, "legendX": 276, "legendY": -21}}
      }},
     {"data": {"name": "boxA"}, "mark": {"type": "tick", "size": 28, "thickness": 1},
      "encoding": {
       "xOffset": {"field": "d", "type": "nominal", "scale": {"domain": ["AMP","SMX","TET","CIP","CTX","CIP/CTX"], "paddingInner": 0.24, "paddingOuter": 1.42}},
       "y": {"field": "med", "type": "quantitative", "title": "Occurrence of 'microbiological' resistance (%)", "scale": {"domain": [-1, 101.6], "nice": false, "zero": false}, "axis": {"values": [0,20,40,60,80,100]}},
       "color": {"field": "d", "type": "nominal", "scale": {"domain": ["AMP","SMX","TET","CIP","CTX","CIP/CTX"], "range": ["#8f8ff5","#ee7f8a","#45a898","#ab8d70","#b474f0","#a3bb3f"]}, "legend": null}
      }},
     {"data": {"name": "boxA"},
      "transform": [{"fold": ["lo", "hi"], "as": ["k", "cv"]}, {"filter": "(datum.k == 'hi' && datum.hi > datum.q3) || (datum.k == 'lo' && datum.lo < datum.q1)"}],
      "mark": {"type": "tick", "size": 15, "thickness": 1},
      "encoding": {
       "xOffset": {"field": "d", "type": "nominal", "scale": {"domain": ["AMP","SMX","TET","CIP","CTX","CIP/CTX"], "paddingInner": 0.24, "paddingOuter": 1.42}},
       "y": {"field": "cv", "type": "quantitative", "title": "Occurrence of 'microbiological' resistance (%)", "scale": {"domain": [-1, 101.6], "nice": false, "zero": false}, "axis": {"values": [0,20,40,60,80,100]}},
       "color": {"field": "d", "type": "nominal", "scale": {"domain": ["AMP","SMX","TET","CIP","CTX","CIP/CTX"], "range": ["#8f8ff5","#ee7f8a","#45a898","#ab8d70","#b474f0","#a3bb3f"]}, "legend": null}
      }},
     {"data": {"name": "ptsA"}, "mark": {"type": "circle", "size": 16, "opacity": 1},
      "encoding": {
       "xOffset": {"field": "d", "type": "nominal", "scale": {"domain": ["AMP","SMX","TET","CIP","CTX","CIP/CTX"], "paddingInner": 0, "paddingOuter": 0.53}},
       "y": {"field": "v", "type": "quantitative", "title": "Occurrence of 'microbiological' resistance (%)", "scale": {"domain": [-1, 101.6], "nice": false, "zero": false}, "axis": {"values": [0,20,40,60,80,100]}},
       "fill": {"field": "d", "type": "nominal", "scale": {"domain": ["AMP","SMX","TET","CIP","CTX","CIP/CTX"], "range": ["#4d4dff","#e8384f","#18a090","#9c6426","#c05cf0","#a9c81e"]}, "legend": null}
      }},
     {"data": {"name": "boxA"}, "mark": {"type": "point", "shape": "diamond", "filled": true, "size": 55, "color": "#0000c8", "opacity": 1},
      "encoding": {
       "xOffset": {"field": "d", "type": "nominal", "scale": {"domain": ["AMP","SMX","TET","CIP","CTX","CIP/CTX"], "paddingInner": 0, "paddingOuter": 0.53}},
       "y": {"field": "mean", "type": "quantitative", "title": "Occurrence of 'microbiological' resistance (%)", "scale": {"domain": [-1, 101.6], "nice": false, "zero": false}, "axis": {"values": [0,20,40,60,80,100]}}
      }}
    ],
    "resolve": {"scale": {"xOffset": "independent", "fill": "independent"}}
   }
  ]
 },
 {
  "title": {"text": "(b)", "anchor": "start", "frame": "bounds", "offset": -15, "fontSize": 13, "fontWeight": "normal"},
  "vconcat": [
   {
    "width": 652, "height": 313,
    "title": {"text": "Occurrence of resistance in Salmonella spp., food-producing animals, 2020-2021", "anchor": "end", "frame": "group", "offset": 6, "fontSize": 10.5, "fontWeight": "bold"},
    "encoding": {
     "x": {"field": "g", "type": "nominal", "title": null, "scale": {"domain": ["Broilers, 2020|(N=1,953, 22 MSs)", "Laying hens, 2020|(N=1,030, 24 MSs)", "Fattening turkeys, 2020|(N=674, 17 MSs)", "Fattening pigs, 2021|(N=1258, 26 MSs)", "Calves, 2021|(N=79, 10 MSs)"], "paddingInner": 0, "paddingOuter": 0.05}, "axis": {"labelExpr": "split(datum.label, '|')"}}
    },
    "layer": [
     {"data": {"name": "boxB"}, "mark": {"type": "rule", "strokeWidth": 1},
      "encoding": {
       "xOffset": {"field": "d", "type": "nominal", "scale": {"domain": ["AMP","SMX","TET","CIP","CTX","CIP/CTX","AMK"], "paddingInner": 0.225, "paddingOuter": 1.57}},
       "y": {"field": "lo", "type": "quantitative", "title": "Occurrence of 'microbiological' resistance (%)", "scale": {"domain": [-1, 101.6], "nice": false, "zero": false}, "axis": {"values": [0,20,40,60,80,100]}},
       "y2": {"field": "hi"},
       "color": {"field": "d", "type": "nominal", "scale": {"domain": ["AMP","SMX","TET","CIP","CTX","CIP/CTX","AMK"], "range": ["#8f8ff5","#ee7f8a","#45a898","#ab8d70","#b474f0","#a3bb3f","#7cc8f0"]}, "legend": null}
      }},
     {"data": {"name": "boxB"}, "mark": {"type": "bar", "stroke": "#9a9a9a", "strokeWidth": 1},
      "encoding": {
       "xOffset": {"field": "d", "type": "nominal", "scale": {"domain": ["AMP","SMX","TET","CIP","CTX","CIP/CTX","AMK"], "paddingInner": 0.225, "paddingOuter": 1.57}},
       "y": {"field": "q1", "type": "quantitative", "title": "Occurrence of 'microbiological' resistance (%)", "scale": {"domain": [-1, 101.6], "nice": false, "zero": false}, "axis": {"values": [0,20,40,60,80,100]}},
       "y2": {"field": "q3"},
       "fill": {"field": "d", "type": "nominal", "scale": {"domain": ["AMP","SMX","TET","CIP","CTX","CIP/CTX","AMK"], "range": ["#c4cde8","#f3c6c1","#c3ded7","#dfd1bf","#e5d1f2","#e6e8c4","#c9e6f5"]},
        "legend": {"title": "Resistance to:", "columns": 7, "legendX": 226, "legendY": -39}}
      }},
     {"data": {"name": "boxB"}, "mark": {"type": "tick", "size": 10, "thickness": 1},
      "encoding": {
       "xOffset": {"field": "d", "type": "nominal", "scale": {"domain": ["AMP","SMX","TET","CIP","CTX","CIP/CTX","AMK"], "paddingInner": 0.225, "paddingOuter": 1.57}},
       "y": {"field": "med", "type": "quantitative", "title": "Occurrence of 'microbiological' resistance (%)", "scale": {"domain": [-1, 101.6], "nice": false, "zero": false}, "axis": {"values": [0,20,40,60,80,100]}},
       "color": {"field": "d", "type": "nominal", "scale": {"domain": ["AMP","SMX","TET","CIP","CTX","CIP/CTX","AMK"], "range": ["#8f8ff5","#ee7f8a","#45a898","#ab8d70","#b474f0","#a3bb3f","#7cc8f0"]}, "legend": null}
      }},
     {"data": {"name": "boxB"},
      "transform": [{"fold": ["lo", "hi"], "as": ["k", "cv"]}, {"filter": "(datum.k == 'hi' && datum.hi > datum.q3) || (datum.k == 'lo' && datum.lo < datum.q1)"}],
      "mark": {"type": "tick", "size": 6, "thickness": 1},
      "encoding": {
       "xOffset": {"field": "d", "type": "nominal", "scale": {"domain": ["AMP","SMX","TET","CIP","CTX","CIP/CTX","AMK"], "paddingInner": 0.225, "paddingOuter": 1.57}},
       "y": {"field": "cv", "type": "quantitative", "title": "Occurrence of 'microbiological' resistance (%)", "scale": {"domain": [-1, 101.6], "nice": false, "zero": false}, "axis": {"values": [0,20,40,60,80,100]}},
       "color": {"field": "d", "type": "nominal", "scale": {"domain": ["AMP","SMX","TET","CIP","CTX","CIP/CTX","AMK"], "range": ["#8f8ff5","#ee7f8a","#45a898","#ab8d70","#b474f0","#a3bb3f","#7cc8f0"]}, "legend": null}
      }},
     {"data": {"name": "ptsB"}, "mark": {"type": "circle", "size": 13, "opacity": 1},
      "encoding": {
       "xOffset": {"field": "d", "type": "nominal", "scale": {"domain": ["AMP","SMX","TET","CIP","CTX","CIP/CTX","AMK"], "paddingInner": 0, "paddingOuter": 0.62}},
       "y": {"field": "v", "type": "quantitative", "title": "Occurrence of 'microbiological' resistance (%)", "scale": {"domain": [-1, 101.6], "nice": false, "zero": false}, "axis": {"values": [0,20,40,60,80,100]}},
       "fill": {"field": "d", "type": "nominal", "scale": {"domain": ["AMP","SMX","TET","CIP","CTX","CIP/CTX","AMK"], "range": ["#4d4dff","#e8384f","#18a090","#9c6426","#c05cf0","#a9c81e","#3cb8f5"]}, "legend": null}
      }},
     {"data": {"name": "boxB"}, "mark": {"type": "point", "shape": "diamond", "filled": true, "size": 45, "color": "#0000c8", "opacity": 1},
      "encoding": {
       "xOffset": {"field": "d", "type": "nominal", "scale": {"domain": ["AMP","SMX","TET","CIP","CTX","CIP/CTX","AMK"], "paddingInner": 0, "paddingOuter": 0.62}},
       "y": {"field": "mean", "type": "quantitative", "title": "Occurrence of 'microbiological' resistance (%)", "scale": {"domain": [-1, 101.6], "nice": false, "zero": false}, "axis": {"values": [0,20,40,60,80,100]}}
      }}
    ],
    "resolve": {"scale": {"xOffset": "independent", "fill": "independent"}}
   }
  ]
 }
]
}
